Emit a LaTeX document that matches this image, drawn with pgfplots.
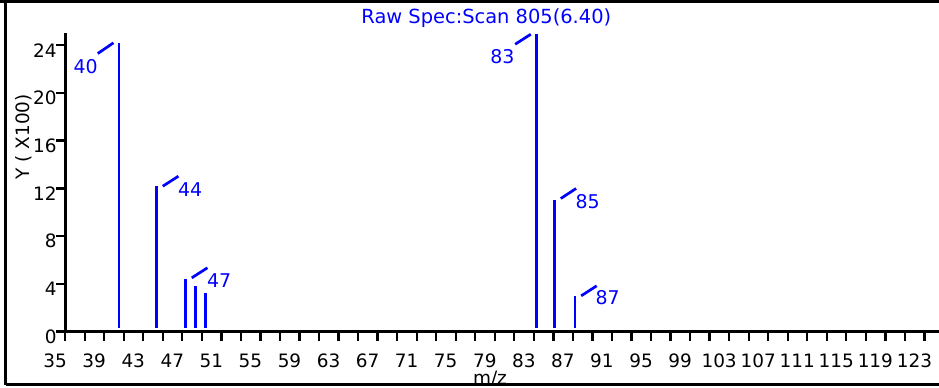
\documentclass[border=0pt]{standalone}
\usepackage{fontspec}
\setmainfont{DejaVu Sans}
\usepackage{pgfplots}
\pgfplotsset{compat=1.18}
\definecolor{specblue}{RGB}{0,0,255}
\begin{document}
\begin{tikzpicture}[x=1bp,y=1bp]
\begin{axis}[
    at={(66.7,46.5)}, anchor=south west,
    scale only axis, width=878.8bp, height=298.25bp,
    xmin=35, xmax=125, ymin=0, ymax=25,
    clip=false,
    axis lines=left,
    axis line style={-, line width=2.8bp, black},
    xtick={35,39,...,123}, minor xtick={37,41,...,125},
    ytick={0,4,...,24},
    tick align=outside,
    major tick length=9bp, minor tick length=9bp,
    tick style={black, line width=2.3bp},
    minor tick style={black, line width=2.3bp},
    /pgf/number format/assume math mode=true,
    ticklabel style={font=\fontsize{18.5}{20}\selectfont},
    xticklabel style={xshift=-10bp, yshift=-10bp},
    yticklabel style={yshift=-5bp, xshift=4bp},
]
% peaks (m/z, intensity x100), drawn as sticks
\addplot[specblue, line width=2.7bp, unbounded coords=jump] coordinates {
    (40.53,0.33) (40.53,24.20) (40.53,nan)
    (44.35,0.33) (44.35,12.18) (44.35,nan)
    (47.35,0.33) (47.35,4.44)  (47.35,nan)
    (48.38,0.33) (48.38,3.83)  (48.38,nan)
    (49.40,0.33) (49.40,3.21)  (49.40,nan)
    (83.24,0.33) (83.24,24.98) (83.24,nan)
    (85.14,0.33) (85.14,11.05) (85.14,nan)
    (87.23,0.33) (87.23,2.96)
};
% peak annotations
\draw[specblue, line width=2.7bp] (axis cs:38.34,23.30) -- (axis cs:39.95,24.20);
\draw[specblue, line width=2.7bp] (axis cs:45.00,12.18) -- (axis cs:46.60,13.02);
\draw[specblue, line width=2.7bp] (axis cs:47.97,4.50) -- (axis cs:49.57,5.34);
\draw[specblue, line width=2.7bp] (axis cs:81.09,24.08) -- (axis cs:82.69,24.92);
\draw[specblue, line width=2.7bp] (axis cs:85.76,11.15) -- (axis cs:87.33,11.99);
\draw[specblue, line width=2.7bp] (axis cs:87.85,2.99) -- (axis cs:89.44,3.83);
\begin{scope}[every node/.style={text=specblue, font=\fontsize{19}{21}\selectfont, inner sep=0pt}]
\node at (axis cs:37.11,22.24) {40};
\node at (axis cs:47.80,11.93) {44};
\node at (axis cs:50.77,4.25) {47};
\node at (axis cs:79.79,23.03) {83};
\node at (axis cs:88.52,10.87) {85};
\node at (axis cs:90.57,2.82) {87};
\end{scope}
\end{axis}
% title and axis labels
\node[text=specblue, font=\fontsize{19.5}{22}\selectfont, inner sep=0pt] at (486.3,368.7) {Raw Spec:Scan 805(6.40)};
\node[rotate=90, font=\fontsize{18.5}{20}\selectfont, inner sep=0pt] at (24,250.3) {Y ( X100)};
\node[anchor=base, font=\fontsize{18.5}{20}\selectfont, inner sep=0pt] at (490,3) {m/z};
% frame
\draw[line width=2.5bp] (5.5,2.5) -- (5.5,385.8);
\draw[line width=3bp] (0,385.8) -- (945,385.8);
\draw[line width=2.5bp] (5.5,2.5) -- (945,2.5);
\pgfresetboundingbox
\path[use as bounding box] (0,0) rectangle (939,387);
\end{tikzpicture}
\end{document}
